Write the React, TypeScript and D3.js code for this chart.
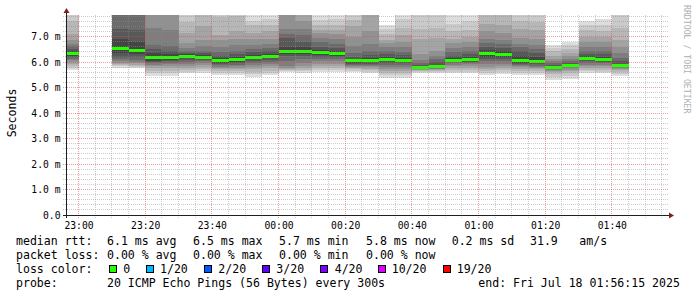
import React from "react";
import * as d3 from "d3";

// ---------- data ----------
const plotStart = "2025-07-17T22:56:15Z";
const plotEnd = "2025-07-18T01:56:15Z";

// start time (HH:MM) of each 300 s smoke bar
const barStarts = [
  "22:55", "23:10", "23:15", "23:20", "23:25", "23:30", "23:35", "23:40", "23:45",
  "23:50", "23:55", "00:00", "00:05", "00:10", "00:15", "00:20", "00:25", "00:30",
  "00:35", "00:40", "00:45", "00:50", "00:55", "01:00", "01:05", "01:10", "01:15",
  "01:20", "01:25", "01:30", "01:35", "01:40",
];

// 20 sorted ping RTTs (ms) per bar
const smokePings = [
  [5.70, 5.78, 5.86, 5.93, 6.00, 6.06, 6.12, 6.18, 6.24, 6.29, 6.37, 6.42, 6.50, 6.62, 6.70, 6.85, 7.10, 7.60, 8.20, 9.00],
  [5.78, 5.83, 5.88, 5.92, 5.96, 6.02, 6.10, 6.20, 6.35, 6.50, 6.56, 6.90, 7.30, 8.00, 8.20, 8.40, 8.60, 8.80, 9.00, 9.50],
  [5.75, 5.80, 5.85, 5.90, 5.95, 6.00, 6.08, 6.18, 6.32, 6.44, 6.50, 6.80, 7.25, 7.95, 8.20, 8.40, 8.60, 8.80, 9.00, 9.50],
  [5.45, 5.55, 5.65, 5.75, 5.85, 5.90, 5.95, 6.00, 6.05, 6.12, 6.20, 6.35, 6.50, 6.65, 7.35, 8.10, 8.40, 8.70, 9.00, 9.50],
  [5.45, 5.55, 5.66, 5.76, 5.86, 5.92, 5.97, 6.02, 6.08, 6.14, 6.20, 6.32, 6.45, 6.62, 7.25, 8.05, 8.30, 8.60, 9.00, 9.50],
  [5.55, 5.62, 5.70, 5.78, 5.85, 5.92, 6.00, 6.08, 6.15, 6.20, 6.26, 6.30, 6.36, 6.44, 6.55, 6.75, 7.15, 7.55, 8.20, 9.00],
  [5.55, 5.63, 5.72, 5.80, 5.88, 5.95, 6.02, 6.08, 6.13, 6.16, 6.20, 6.26, 6.34, 6.45, 6.62, 6.85, 7.40, 7.85, 8.30, 9.00],
  [5.50, 5.58, 5.65, 5.72, 5.78, 5.82, 5.87, 5.92, 5.98, 6.04, 6.10, 6.17, 6.25, 6.40, 6.60, 6.85, 7.05, 7.75, 8.20, 9.00],
  [5.50, 5.57, 5.64, 5.71, 5.77, 5.83, 5.89, 5.95, 6.01, 6.06, 6.12, 6.20, 6.30, 6.45, 6.65, 6.90, 7.20, 7.80, 8.30, 9.00],
  [5.43, 5.52, 5.62, 5.72, 5.82, 5.90, 5.98, 6.05, 6.10, 6.14, 6.20, 6.28, 6.38, 6.50, 6.68, 6.90, 7.15, 7.45, 7.60, 8.50],
  [5.50, 5.58, 5.66, 5.75, 5.84, 5.92, 6.00, 6.08, 6.14, 6.20, 6.26, 6.33, 6.42, 6.55, 6.70, 6.92, 7.20, 7.45, 7.70, 8.50],
  [5.62, 5.66, 5.70, 5.74, 5.78, 5.85, 6.05, 6.25, 6.33, 6.39, 6.45, 6.60, 6.95, 7.10, 7.30, 8.00, 8.30, 8.60, 9.00, 9.50],
  [5.58, 5.64, 5.70, 5.76, 5.84, 5.95, 6.10, 6.25, 6.33, 6.39, 6.45, 6.58, 6.80, 7.05, 7.30, 7.60, 8.00, 8.40, 8.80, 9.50],
  [5.62, 5.70, 5.78, 5.86, 5.94, 6.02, 6.10, 6.20, 6.28, 6.33, 6.39, 6.48, 6.60, 6.80, 6.95, 7.15, 7.27, 7.45, 7.65, 8.60],
  [5.62, 5.70, 5.78, 5.86, 5.94, 6.02, 6.10, 6.18, 6.25, 6.30, 6.34, 6.42, 6.55, 6.72, 6.90, 7.10, 7.25, 7.45, 7.70, 8.50],
  [5.60, 5.66, 5.72, 5.76, 5.80, 5.84, 5.88, 5.92, 5.96, 6.01, 6.07, 6.12, 6.20, 6.35, 6.62, 7.00, 7.40, 7.65, 8.20, 9.00],
  [5.55, 5.62, 5.68, 5.74, 5.79, 5.84, 5.89, 5.94, 5.99, 6.03, 6.09, 6.16, 6.28, 6.45, 6.70, 7.20, 8.00, 8.30, 8.60, 9.00],
  [5.39, 5.48, 5.58, 5.66, 5.72, 5.80, 5.88, 5.96, 6.03, 6.08, 6.12, 6.18, 6.30, 6.42, 6.60, 6.75, 6.88, 7.10, 7.30, 7.45],
  [5.39, 5.48, 5.58, 5.66, 5.74, 5.82, 5.90, 5.97, 6.02, 6.05, 6.09, 6.16, 6.26, 6.40, 6.58, 6.80, 7.05, 7.35, 7.70, 8.40],
  [5.55, 5.60, 5.64, 5.67, 5.69, 5.71, 5.72, 5.74, 5.75, 5.76, 5.78, 5.83, 5.88, 5.95, 6.08, 6.30, 6.90, 7.30, 8.20, 9.00],
  [5.55, 5.60, 5.65, 5.69, 5.72, 5.74, 5.76, 5.78, 5.79, 5.80, 5.82, 5.90, 6.00, 6.10, 6.25, 6.45, 6.95, 7.35, 8.20, 9.00],
  [5.55, 5.62, 5.70, 5.78, 5.85, 5.90, 5.95, 5.99, 6.02, 6.05, 6.09, 6.16, 6.25, 6.40, 6.55, 6.75, 6.90, 7.20, 7.50, 8.40],
  [5.55, 5.62, 5.70, 5.78, 5.85, 5.91, 5.96, 6.01, 6.05, 6.09, 6.13, 6.20, 6.30, 6.45, 6.60, 6.80, 7.00, 7.25, 7.60, 8.40],
  [5.50, 5.58, 5.66, 5.74, 5.82, 5.92, 6.02, 6.12, 6.20, 6.28, 6.38, 6.48, 6.60, 6.75, 6.90, 7.20, 7.50, 8.10, 8.50, 9.00],
  [5.52, 5.60, 5.68, 5.76, 5.84, 5.94, 6.04, 6.13, 6.21, 6.28, 6.34, 6.44, 6.56, 6.70, 6.88, 7.15, 7.45, 8.05, 8.40, 9.00],
  [5.50, 5.58, 5.66, 5.74, 5.80, 5.84, 5.88, 5.93, 5.98, 6.04, 6.10, 6.25, 6.42, 6.60, 6.72, 6.95, 7.30, 7.60, 8.20, 9.00],
  [5.50, 5.57, 5.64, 5.71, 5.77, 5.82, 5.86, 5.91, 5.96, 6.01, 6.05, 6.18, 6.35, 6.52, 6.68, 6.90, 7.25, 7.55, 8.20, 9.00],
  [5.31, 5.42, 5.52, 5.60, 5.66, 5.70, 5.73, 5.75, 5.77, 5.79, 5.81, 5.84, 5.88, 5.95, 6.02, 6.10, 6.25, 6.42, 6.55, 6.66],
  [5.35, 5.46, 5.56, 5.64, 5.70, 5.75, 5.79, 5.81, 5.83, 5.85, 5.87, 5.91, 5.96, 6.03, 6.12, 6.22, 6.36, 6.50, 6.65, 6.78],
  [5.55, 5.63, 5.70, 5.77, 5.84, 5.90, 5.96, 6.02, 6.07, 6.11, 6.15, 6.22, 6.32, 6.45, 6.60, 6.80, 7.00, 7.25, 7.45, 7.60],
  [5.55, 5.62, 5.69, 5.76, 5.83, 5.89, 5.95, 6.00, 6.05, 6.09, 6.13, 6.20, 6.30, 6.43, 6.58, 6.78, 6.98, 7.22, 7.45, 7.67],
  [5.44, 5.52, 5.60, 5.67, 5.72, 5.76, 5.79, 5.81, 5.83, 5.85, 5.87, 5.92, 6.02, 6.15, 6.35, 6.60, 6.85, 7.35, 8.20, 9.00],
];

const yTickValues = [0, 1, 2, 3, 4, 5, 6, 7];
const yTickLabels = ["0.0", "1.0 m", "2.0 m", "3.0 m", "4.0 m", "5.0 m", "6.0 m", "7.0 m"];

const rttLabel = "median rtt:";
const rttValues = ["6.1 ms avg", "6.5 ms max", "5.7 ms min", "5.8 ms now", "0.2 ms sd", "31.9", "am/s"];
const lossLabel = "packet loss:";
const lossValues = ["0.00 % avg", "0.00 % max", "0.00 % min", "0.00 % now"];
const lossColorLabel = "loss color:";
const lossNames = ["0", "1/20", "2/20", "3/20", "4/20", "10/20", "19/20"];
const lossColors = ["#26ff00", "#00b8ff", "#0059ff", "#5e00ff", "#7e00ff", "#dd00ff", "#ff0000"];
const probeLabel = "probe:";
const probeText = "20 ICMP Echo Pings (56 Bytes) every 300s";
const endText = "end: Fri Jul 18 01:56:15 2025";
const yTitle = "Seconds";
const watermark = "RRDTOOL / TOBI OETIKER";

// ---------- layout ----------
const W = 697;
const H = 297;
const X0 = 66;
const X1 = 666;
const Y0 = 215;
const Y1 = 15;
const PX_PER_MS = 25.5;
const MONO = "'DejaVu Sans Mono', monospace";

function barDate(hhmm: string): Date {
  const [h, m] = hhmm.split(":").map(Number);
  const day = h >= 12 ? 17 : 18;
  return new Date(Date.UTC(2025, 6, day, h, m, 0));
}

export default function App() {
  const start = new Date(plotStart);
  const end = new Date(plotEnd);
  const x = d3.scaleUtc().domain([start, end]).range([X0, X1]);
  const y = d3.scaleLinear().domain([0, (Y0 - Y1) / PX_PER_MS]).range([Y0, Y1]);
  const fmt = d3.utcFormat("%H:%M");
  const crisp = (v: number) => Math.floor(v) + 0.5;

  const minorH = d3.range(0, 40).map((i) => i * 0.2).filter((v) => y(v) >= Y1 - 0.01);
  const minorV = d3.utcMinute.every(5)!.range(start, end);
  const majorV = d3.utcMinute.every(20)!.range(start, end);

  const greys = d3.range(1, 11).map((i) => {
    const c = Math.floor((190 / 10) * (10 - i)) + 50;
    return `rgb(${c},${c},${c})`;
  });

  const bars = barStarts.map((s, bi) => {
    const t0 = barDate(s);
    const t1 = new Date(t0.getTime() + 300000);
    const xa = Math.max(x(t0), X0);
    const xb = Math.min(x(t1), X1);
    const p = smokePings[bi];
    const median = (p[9] + p[10]) / 2;
    return { xa, xb, p, median };
  });

  const legendX = 16;
  const colX = [107, 193, 279, 366, 451.7, 530, 579.3];
  const swatchX = [109, 146, 204, 262, 320, 378, 443];
  const swatchLabelX = [123.3, 160, 218.3, 276.3, 334.7, 391.7, 456.7];
  const lineY = [244.5, 258.5, 272.5, 286.5];
  const legendFont = 11.55;

  return (
    <svg
      width={W}
      height={H}
      viewBox={`0 0 ${W} ${H}`}
      style={{ position: "absolute", left: 0, top: 0, background: "#fff" }}
      fontFamily={MONO}
    >
      <rect x={0} y={0} width={W} height={H} fill="#ffffff" />
      <defs>
        <clipPath id="plotClip">
          <rect x={X0} y={Y1} width={X1 - X0} height={Y0 - Y1} />
        </clipPath>
      </defs>

      {/* smoke */}
      <g clipPath="url(#plotClip)" shapeRendering="crispEdges">
        {bars.map((b, bi) => (
          <g key={bi}>
            {greys.map((g, i) => {
              const lo = b.p[i];
              const hi = b.p[19 - i];
              const ya = y(hi);
              const yb = y(lo);
              return (
                <rect key={i} x={b.xa} y={ya} width={b.xb - b.xa} height={Math.max(0, yb - ya)} fill={g} />
              );
            })}
          </g>
        ))}
        {bars.map((b, bi) => (
          <rect
            key={"m" + bi}
            x={b.xa}
            y={y(b.median) - 1.5}
            width={b.xb - b.xa}
            height={3}
            fill={lossColors[0]}
          />
        ))}
      </g>

      {/* grid */}
      <g strokeWidth={1} strokeDasharray="1,1" fill="none">
        {minorH.map((v, i) =>
          Math.abs(v - Math.round(v)) < 1e-6 ? null : (
            <line key={"h" + i} x1={X0 - 3} x2={X1 + 3} y1={crisp(y(v))} y2={crisp(y(v))} stroke="rgba(143,143,143,0.45)" />
          )
        )}
        {minorV.map((t, i) =>
          t.getUTCMinutes() % 20 === 0 ? null : (
            <line key={"v" + i} x1={crisp(x(t))} x2={crisp(x(t))} y1={Y1} y2={Y0 + 3} stroke="rgba(143,143,143,0.45)" />
          )
        )}
        {yTickValues.slice(1).map((v, i) => (
          <line key={"H" + i} x1={X0 - 3} x2={X1 + 3} y1={crisp(y(v))} y2={crisp(y(v))} stroke="rgba(222,79,79,0.55)" />
        ))}
        {majorV.map((t, i) => (
          <line key={"V" + i} x1={crisp(x(t))} x2={crisp(x(t))} y1={Y1} y2={Y0 + 3} stroke="rgba(222,79,79,0.55)" />
        ))}
      </g>

      {/* axes */}
      <line x1={X0 - 3} x2={X1 + 3} y1={Y0 + 0.5} y2={Y0 + 0.5} stroke="#1f1f1f" strokeWidth={1} />
      <line x1={X0 + 0.5} x2={X0 + 0.5} y1={Y0 + 3} y2={Y1 - 3} stroke="#1f1f1f" strokeWidth={1} />
      <path d={`M${X1 + 3},${Y0 - 2.5} L${X1 + 8},${Y0 + 0.5} L${X1 + 3},${Y0 + 3.5} Z`} fill="#801f1f" />
      <path d={`M${X0 - 2.5},${Y1 - 2} L${X0 + 0.5},${Y1 - 7} L${X0 + 3.5},${Y1 - 2} Z`} fill="#801f1f" />

      {/* y tick labels */}
      <g fontSize={9.7} fill="#000" textAnchor="end">
        {yTickValues.map((v, i) => (
          <text key={i} x={60.5} y={crisp(y(v)) + 3.5}>
            {yTickLabels[i]}
          </text>
        ))}
      </g>

      {/* x tick labels */}
      <g fontSize={9.7} fill="#000" textAnchor="middle">
        {majorV.map((t, i) => (
          <text key={i} x={x(t) + 0.5} y={228.5}>
            {fmt(t)}
          </text>
        ))}
      </g>

      {/* y title */}
      <text transform="translate(15.5,113) rotate(-90)" fontSize={legendFont} textAnchor="middle" fill="#000">
        {yTitle}
      </text>

      {/* watermark */}
      <text transform="translate(683.5,5) rotate(90)" fontSize={8.2} fill="#b0b0b0">
        {watermark}
      </text>

      {/* legend */}
      <g fontSize={legendFont} fill="#000" style={{ whiteSpace: "pre" }}>
        <text x={legendX} y={lineY[0]}>{rttLabel}</text>
        {rttValues.map((s, i) => (
          <text key={"r" + i} x={colX[i]} y={lineY[0]}>{s}</text>
        ))}
        <text x={legendX} y={lineY[1]}>{lossLabel}</text>
        {lossValues.map((s, i) => (
          <text key={"l" + i} x={colX[i]} y={lineY[1]}>{s}</text>
        ))}
        <text x={legendX} y={lineY[2]}>{lossColorLabel}</text>
        {lossNames.map((s, i) => (
          <g key={"c" + i}>
            <rect x={swatchX[i] + 0.5} y={265.5} width={7} height={7} fill={lossColors[i]} stroke="#000" strokeWidth={1} />
            <text x={swatchLabelX[i]} y={lineY[2]}>{s}</text>
          </g>
        ))}
        <text x={legendX} y={lineY[3]}>{probeLabel}</text>
        <text x={colX[0]} y={lineY[3]}>{probeText}</text>
        <text x={478.3} y={lineY[3]}>{endText}</text>
      </g>
    </svg>
  );
}
